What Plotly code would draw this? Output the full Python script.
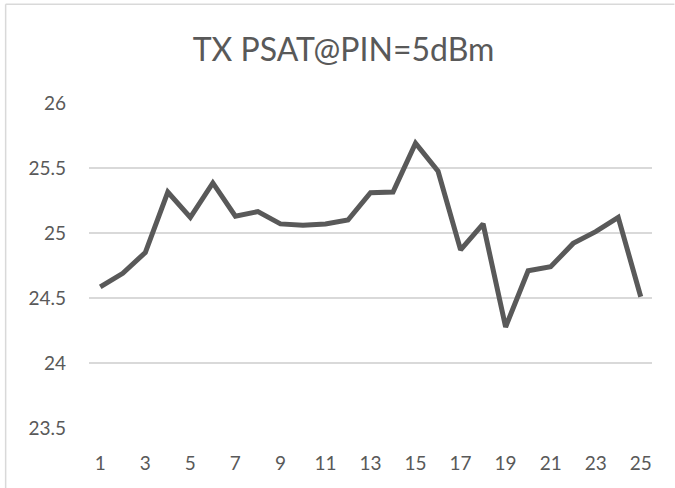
import plotly.graph_objects as go

title_text = "TX PSAT@PIN=5dBm"
channels = list(range(1, 26))
psat = [24.585, 24.69, 24.85, 25.315, 25.12, 25.385, 25.13, 25.165, 25.07, 25.06,
        25.07, 25.10, 25.31, 25.315, 25.69, 25.475, 24.87, 25.07, 24.277, 24.71,
        24.74, 24.92, 25.01, 25.12, 24.51]
x_ticks = list(range(1, 26, 2))
y_ticks = [23.5, 24, 24.5, 25, 25.5, 26]
y_ticktext = ["23.5", "24", "24.5", "25", "25.5", "26"]

W, H = 675, 488
L, R, T, B = 88.5, 22.5, 102.7, 60.3
pw, ph = W - L - R, H - T - B

txt = "#595959"
grid = "#D9D9D9"
font = "Lato"

fig = go.Figure()
fig.add_trace(go.Scatter(x=channels, y=psat, mode="lines",
                         line=dict(color="#595959", width=5, shape="linear"),
                         hoverinfo="x+y"))

fig.update_layout(
    width=W, height=H,
    margin=dict(l=L, r=R, t=T, b=B, pad=0),
    paper_bgcolor="white", plot_bgcolor="white",
    showlegend=False,
    font=dict(family=font, color=txt, size=19),
    title=dict(text=title_text, x=343.5 / W, xref="container", xanchor="center",
               y=1 - 50 / H, yref="container", yanchor="middle",
               font=dict(family=font, size=32, color=txt)),
    xaxis=dict(range=[0.5, 25.5], tickvals=x_ticks, ticktext=[str(v) for v in x_ticks],
               showgrid=False, zeroline=False, showline=False, ticks="",
               ticklabelstandoff=22, tickfont=dict(size=19, color=txt, family=font)),
    yaxis=dict(range=[23.5, 26], tickvals=y_ticks, ticktext=y_ticktext,
               showgrid=True, gridcolor=grid, gridwidth=1.5, zeroline=False,
               showline=False, ticks="", ticklabelstandoff=22,
               tickfont=dict(size=19, color=txt, family=font)),
    shapes=[
        dict(type="line", xref="paper", yref="paper",
             x0=(5 - L) / pw, x1=(5 - L) / pw, y0=-B / ph, y1=(H - 4 - B) / ph,
             line=dict(color=grid, width=1.5)),
        dict(type="line", xref="paper", yref="paper",
             x0=(5 - L) / pw, x1=(W - L) / pw, y0=(H - 4 - B) / ph, y1=(H - 4 - B) / ph,
             line=dict(color=grid, width=1.5)),
    ],
)

fig.write_html("out.html", config={"displayModeBar": False},
               post_script=("document.body.style.margin='0';"
                            "document.body.style.overflow='hidden';"
                            "document.documentElement.style.overflow='hidden';"))
